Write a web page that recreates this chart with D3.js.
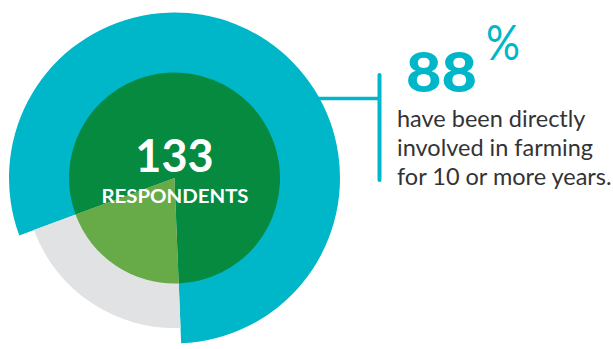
<!DOCTYPE html>
<html lang="en">
  <head>
    <meta charset="utf-8" />
    <title>Respondents</title>
    <script src="https://d3js.org/d3.v7.min.js"></script>
    <style>
      body { margin: 0; background: #fff; }
      svg text { font-family: Lato, "Open Sans", sans-serif; }
    </style>
  </head>
  <body>
    <script>
      // shares (outer ring and inner wedge use the same split)
      var groups = ["10 or more years", "less than 10 years"];
      var outerShares = [80, 20];
      var innerShares = [80, 20];
      var outerColors = ["#00b6c9", "#e1e2e4"];
      var innerColors = ["#058a3f", "#67aa48"];
      var outerRadii = [165.5, 150];
      var respondents = 133;
      var headlinePct = 88;
      var bodyLines = ["have been directly", "involved in farming", "for 10 or more years."];

      var width = 613, height = 349;
      var cx = 174.5, cy = 178;
      var start = 249.7 * Math.PI / 180;

      var svg = d3.select("body").append("svg")
        .attr("width", width)
        .attr("height", height);

      var pie = d3.pie().sort(null)
        .startAngle(start)
        .endAngle(start + 2 * Math.PI);

      var g = svg.append("g").attr("transform", "translate(" + cx + "," + cy + ")");

      // outer ring, each slice with its own radius
      g.selectAll("path.outer")
        .data(pie(outerShares))
        .enter()
        .append("path")
        .attr("class", "outer")
        .attr("d", function (d, i) {
          return d3.arc().innerRadius(0).outerRadius(outerRadii[i])(d);
        })
        .style("fill", function (d, i) { return outerColors[i]; });

      var innerArc = d3.arc().innerRadius(0).outerRadius(105.5);

      g.selectAll("path.inner")
        .data(pie(innerShares))
        .enter()
        .append("path")
        .attr("class", "inner")
        .attr("d", innerArc)
        .style("fill", function (d, i) { return innerColors[i]; });

      g.append("text")
        .attr("x", 0)
        .attr("y", -6)
        .attr("text-anchor", "middle")
        .style("font-size", "45px")
        .style("font-weight", 700)
        .style("fill", "#fff")
        .text(respondents);

      g.append("text")
        .attr("x", -73)
        .attr("y", 25)
        .attr("textLength", 147)
        .attr("lengthAdjust", "spacingAndGlyphs")
        .style("font-size", "18.5px")
        .style("font-weight", 700)
        .style("fill", "#fff")
        .text("RESPONDENTS");

      // connector
      var lineY = 98.5;
      var edgeX = cx + Math.sqrt(outerRadii[0] * outerRadii[0] - (lineY - cy) * (lineY - cy));
      svg.append("line")
        .attr("x1", edgeX - 2).attr("x2", 380)
        .attr("y1", lineY).attr("y2", lineY)
        .style("stroke", outerColors[0])
        .style("stroke-width", 3.5);
      svg.append("line")
        .attr("x1", 379.5).attr("x2", 379.5)
        .attr("y1", 75).attr("y2", 180)
        .style("stroke", outerColors[0])
        .style("stroke-width", 4)
        .style("stroke-linecap", "round");

      svg.append("text")
        .attr("x", 406)
        .attr("y", 92)
        .attr("textLength", 71)
        .attr("lengthAdjust", "spacingAndGlyphs")
        .style("font-size", "56px")
        .style("font-weight", 900)
        .style("fill", outerColors[0])
        .text(headlinePct);

      svg.append("text")
        .attr("x", 486)
        .attr("y", 60)
        .attr("textLength", 34)
        .attr("lengthAdjust", "spacingAndGlyphs")
        .style("font-size", "48px")
        .style("font-weight", 400)
        .style("fill", outerColors[0])
        .text("%");

      svg.selectAll("text.body")
        .data(bodyLines)
        .enter()
        .append("text")
        .attr("class", "body")
        .attr("x", 397)
        .attr("y", function (d, i) { return 127 + i * 29; })
        .style("font-size", "23.5px")
        .style("fill", "#333335")
        .text(function (d) { return d; });
    </script>
  </body>
</html>
